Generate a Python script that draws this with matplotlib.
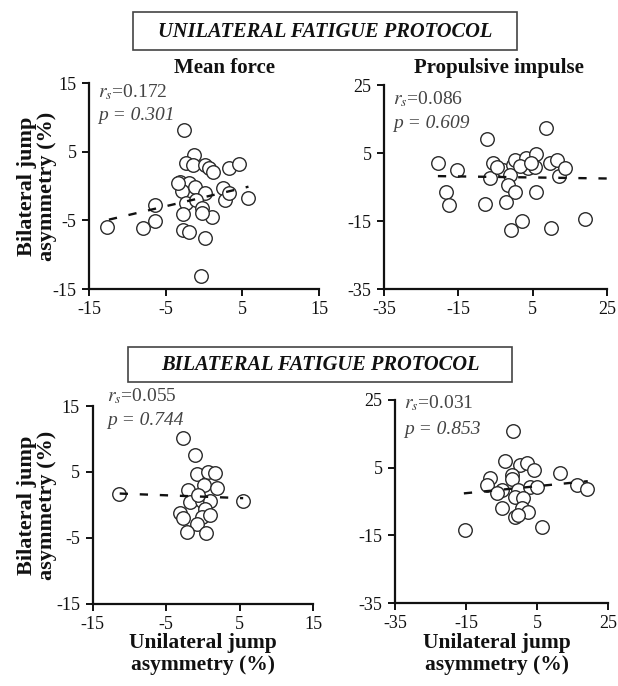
import matplotlib
matplotlib.use("Agg")
import matplotlib.pyplot as plt
from matplotlib.patches import Rectangle

plt.rcParams['font.family'] = ['Liberation Serif', 'DejaVu Serif']
plt.rcParams['mathtext.fontset'] = 'stix'

# ---------------- data ----------------
# Unilateral fatigue protocol - mean force
uf_mf_x = [-12.6, -8.0, -6.4, -6.4, -2.6, -1.3, -2.3, -1.4, 0.1, 0.6, 1.2, 3.2, 4.5,
           -3.1, -2.0, -2.9, -1.2, 0.1, -2.3, -1.0, -0.3, 1.0, 2.5, 2.7, 5.8, 3.2,
           -2.7, -2.0, 0.1, -2.8, -0.2, -0.4, -3.4]
uf_mf_y = [-6.0, -6.1, -5.1, -2.8, 8.1, 4.5, 3.3, 3.0, 3.1, 2.6, 2.1, 2.6, 3.2,
           0.6, 0.4, -0.8, -0.1, -1.0, -2.5, -2.0, -3.2, -4.5, -0.3, -2.0, -1.8, -1.0,
           -6.4, -6.7, -7.6, -4.1, -3.9, -13.1, 0.4]
uf_mf_fit_x = [-12.4, 5.8]
uf_mf_fit_y = [-4.9, -0.1]
uf_mf_stats = ("0.172", "0.301")

# Unilateral fatigue protocol - propulsive impulse
uf_pi_x = [-20.4, -15.3, -18.2, -17.5, -7.4, -5.7, -6.5, -7.9, -3.0, -0.3, 0.2, -1.2,
           -1.6, 0.2, -2.2, 3.3, 3.7, 6.0, 5.5, 6.0, 8.7, 9.6, 11.5, 12.1, 13.6,
           -0.7, 2.2, 10.0, 19.0, -4.6, 1.5, 4.5]
uf_pi_y = [2.2, 0.0, -6.4, -10.3, 9.0, 2.0, -2.4, -10.1, 0.0, 1.5, 2.9, -1.5,
           -4.4, -6.4, -9.3, 3.6, 0.5, 4.6, 1.0, -6.6, 12.3, 2.0, 3.0, -1.8, 0.5,
           -17.5, -15.0, -17.2, -14.4, 1.0, 1.2, 2.0]
uf_pi_fit_x = [-20.5, 25.0]
uf_pi_fit_y = [-1.8, -2.5]
uf_pi_stats = ("0.086", "0.609")

# Bilateral fatigue protocol - mean force
bf_mf_x = [-11.35, -2.7, -1.0, -0.8, 0.75, 1.6, 0.2, 2.0, -2.0, -1.7, -0.14, 1.0,
           5.5, -3.1, -2.65, 0.3, -0.14, 1.0, -0.8, -2.2, 0.5, -0.6]
bf_mf_y = [1.7, 10.15, 7.5, 4.65, 5.0, 4.85, 3.0, 2.6, 2.3, 0.45, 0.6, 0.6,
           0.56, -1.3, -2.05, -0.7, -1.8, -1.6, -2.9, -4.2, -4.3, 1.5]
bf_mf_fit_x = [-11.3, 5.5]
bf_mf_fit_y = [1.7, 1.0]
bf_mf_stats = ("0.055", "0.744")

# Bilateral fatigue protocol - propulsive impulse
bf_pi_x = [-15.4, -1.85, -4.0, 0.2, 2.1, 4.1, -2.1, -2.1, -8.2, -9.2, -4.9, -0.3,
           3.0, 5.1, -6.4, -1.2, -4.9, 1.1, 0.7, 2.5, -1.2, -0.3, 6.3, 11.5,
           16.4, 19.2]
bf_pi_y = [-13.5, 15.8, 6.9, 5.8, 6.3, 4.2, 2.8, 1.6, 1.9, -0.1, -1.6, -1.6,
           -0.6, -0.6, -2.6, -3.6, -7.0, -4.1, -7.0, -8.0, -9.7, -9.0, -12.5, 3.4,
           -0.1, -1.3]
bf_pi_fit_x = [-15.6, 19.3]
bf_pi_fit_y = [-2.6, 1.0]
bf_pi_stats = ("0.031", "0.853")

mf_ticks = [-15, -5, 5, 15]
pi_ticks = [-35, -15, 5, 25]

# ---------------- figure ----------------
W, H = 618, 686
fig = plt.figure(figsize=(W / 100, H / 100), dpi=100)


def px(x, y):
    return x / W, 1 - y / H


def add_ax(l, t, r, b):
    return fig.add_axes([l / W, 1 - b / H, (r - l) / W, (b - t) / H])


def draw(ax, x, y, fx, fy, ticks, stats, tx, ty1, ty2):
    ax.scatter(x, y, s=95, facecolors='white', edgecolors='#2a2a2a',
               linewidths=1.0, zorder=2, clip_on=False)
    ax.plot(fx, fy, color='#111111', lw=1.7, dashes=(3.5, 5.0), zorder=3)
    ax.set_xlim(ticks[0], ticks[-1])
    ax.set_ylim(ticks[0], ticks[-1])
    ax.set_xticks(ticks)
    ax.set_yticks(ticks)
    ax.set_xticklabels([str(t) for t in ticks])
    ax.set_yticklabels([str(t) for t in ticks])
    for s in ['top', 'right']:
        ax.spines[s].set_visible(False)
    for s in ['left', 'bottom']:
        ax.spines[s].set_linewidth(1.6)
        ax.spines[s].set_color('#111111')
    ax.tick_params(direction='out', length=5, width=1.4, labelsize=13,
                   pad=4, colors='#111111')
    ax.patch.set_alpha(0)
    fig.text(*px(tx, ty1), r'$r_s$=' + stats[0], fontsize=14, color='#444444',
             va='center', ha='left')
    fig.text(*px(tx, ty2), 'p = ' + stats[1], fontsize=14, color='#444444',
             va='center', ha='left', style='italic')


ax1 = add_ax(89, 83, 319, 289)
draw(ax1, uf_mf_x, uf_mf_y, uf_mf_fit_x, uf_mf_fit_y, mf_ticks, uf_mf_stats,
     98, 92, 116)
ax2 = add_ax(384, 85, 607, 289)
draw(ax2, uf_pi_x, uf_pi_y, uf_pi_fit_x, uf_pi_fit_y, pi_ticks, uf_pi_stats,
     393, 99, 124)
ax3 = add_ax(92.5, 406, 313, 603.5)
draw(ax3, bf_mf_x, bf_mf_y, bf_mf_fit_x, bf_mf_fit_y, mf_ticks, bf_mf_stats,
     107, 396, 421)
ax4 = add_ax(395, 400, 608, 603)
draw(ax4, bf_pi_x, bf_pi_y, bf_pi_fit_x, bf_pi_fit_y, pi_ticks, bf_pi_stats,
     404, 403, 429)


# header boxes
def header(text, l, t, r, b):
    fig.patches.append(Rectangle((l / W, 1 - b / H), (r - l) / W, (b - t) / H,
                                 transform=fig.transFigure, fill=False,
                                 edgecolor='#444444', lw=1.2))
    fig.text(*px((l + r) / 2, (t + b) / 2 + 1), text, ha='center', va='center',
             fontsize=14.8, fontweight='bold', style='italic', color='#111111')


header('UNILATERAL FATIGUE PROTOCOL', 133, 12, 517, 50)
header('BILATERAL FATIGUE PROTOCOL', 128, 347, 512, 382)

# panel titles
fig.text(*px(224, 68), 'Mean force', ha='center', va='center', fontsize=15,
         fontweight='bold', color='#111111')
fig.text(*px(499, 68), 'Propulsive impulse', ha='center', va='center', fontsize=15,
         fontweight='bold', color='#111111')

# y labels
for yc in (186, 505):
    fig.text(*px(37, yc), 'Bilateral jump\nasymmetry (%)', ha='center', va='center',
             rotation=90, fontsize=16, fontweight='bold', color='#111111',
             linespacing=1.05)

# x labels
for xc in (203, 497):
    fig.text(*px(xc, 654), 'Unilateral jump\nasymmetry (%)', ha='center',
             va='center', fontsize=15.5, fontweight='bold', color='#111111',
             linespacing=1.12)

fig.savefig('out.png', dpi=100)
